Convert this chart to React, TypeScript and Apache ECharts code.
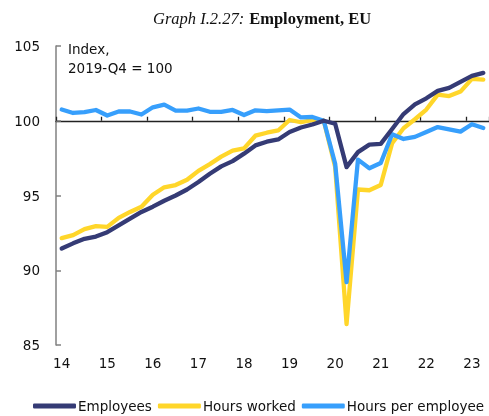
import React, { useEffect, useRef } from "react";
import * as echarts from "echarts";

const years = ["14", "15", "16", "17", "18", "19", "20", "21", "22", "23"];
const quarters = ["Q1", "Q2", "Q3", "Q4"];
const categories = years.flatMap((y) => quarters.map((q) => `${y}-${q}`)).slice(0, 38);

const employees = [
  91.45, 91.8, 92.1, 92.25, 92.55, 93.0, 93.45, 93.9, 94.25, 94.65,
  95.0, 95.4, 95.9, 96.45, 96.95, 97.3, 97.8, 98.35, 98.6, 98.75,
  99.25, 99.55, 99.75, 100.0, 99.8, 96.9, 97.9, 98.4, 98.45, 99.45,
  100.45, 101.1, 101.5, 102.0, 102.2, 102.6, 103.0, 103.2,
];
const hoursWorked = [
  92.15, 92.35, 92.75, 92.95, 92.9, 93.5, 93.9, 94.25, 95.05, 95.55,
  95.7, 96.05, 96.65, 97.1, 97.6, 98.0, 98.15, 99.0, 99.2, 99.35,
  100.05, 99.9, 100.05, 100.0, 96.9, 86.4, 95.4, 95.35, 95.7, 98.5,
  99.5, 100.1, 100.75, 101.75, 101.65, 101.95, 102.8, 102.75,
];
const hoursPerEmployee = [
  100.75, 100.52, 100.57, 100.72, 100.35, 100.62, 100.62, 100.42, 100.9, 101.08,
  100.68, 100.68, 100.82, 100.6, 100.6, 100.72, 100.38, 100.7, 100.65, 100.7,
  100.75, 100.22, 100.25, 100.0, 97.12, 89.2, 97.4, 96.82, 97.17, 99.1,
  98.78, 98.92, 99.25, 99.58, 99.43, 99.27, 99.77, 99.52,
];

const BASE = 100;
const FONT = "DejaVu Sans";

export default function App() {
  const ref = useRef<HTMLDivElement>(null);
  useEffect(() => {
    if (!ref.current) return;
    const chart = echarts.init(ref.current, undefined, { renderer: "svg" });
    const shift = (arr: number[]) => arr.map((v) => +(v - BASE).toFixed(3));
    const mk = (name: string, data: number[], color: string, z: number) => ({
      name,
      type: "line",
      data: shift(data),
      xAxisIndex: 0,
      symbol: "none",
      z,
      lineStyle: { color, width: 4.3, join: "round", cap: "round" },
      itemStyle: { color },
    });
    chart.setOption({
      animation: false,
      title: {
        text: "{i|Graph I.2.27:} {b|Employment, EU}",
        left: 148,
        top: 4,
        textStyle: {
          fontWeight: "normal",
          rich: {
            i: { fontFamily: "Liberation Serif", fontStyle: "italic", fontWeight: "normal", fontSize: 16.5, color: "#111" },
            b: { fontFamily: "Liberation Serif", fontWeight: "bold", fontSize: 16.5, color: "#111" },
          },
        },
      },
      grid: { left: 56, right: 0, top: 46, bottom: 71, containLabel: false },
      legend: {
        left: 33,
        bottom: 3,
        width: 470,
        padding: 0,
        icon: "roundRect",
        itemWidth: 43,
        itemHeight: 5,
        itemGap: 6,
        data: ["Employees", "Hours worked", "Hours per employee"],
        textStyle: { fontFamily: FONT, fontSize: 13.5, color: "#111", padding: [0, 0, 0, -3] },
      },
      xAxis: [
        {
          type: "category",
          data: categories,
          position: "bottom",
          boundaryGap: true,
          axisLine: { onZero: true, lineStyle: { color: "#222", width: 1.3 } },
          axisTick: { show: true, inside: true, length: 4, interval: 3, lineStyle: { color: "#222", width: 1.3 } },
          axisLabel: { show: false },
          splitLine: { show: false },
        },
        {
          type: "category",
          data: categories,
          position: "bottom",
          boundaryGap: true,
          axisLine: { show: false, onZero: false },
          axisTick: { show: false },
          axisLabel: {
            interval: 3,
            margin: 11,
            fontFamily: FONT,
            fontSize: 13.5,
            color: "#111",
            formatter: (v: string) => v.slice(0, 2),
          },
          splitLine: { show: false },
        },
      ],
      yAxis: {
        type: "value",
        min: -15,
        max: 5,
        interval: 5,
        axisLine: { show: true, lineStyle: { color: "#808080", width: 1.5 } },
        axisTick: { show: true, inside: true, length: 5, lineStyle: { color: "#808080", width: 1.5 } },
        axisLabel: {
          margin: 16,
          fontFamily: FONT,
          fontSize: 13.5,
          color: "#111",
          formatter: (v: number) => String(v + BASE),
        },
        splitLine: { show: false },
      },
      graphic: [
        {
          type: "text",
          left: 68,
          top: 42,
          style: { text: "Index,", fontFamily: FONT, fontSize: 13.5, fill: "#111" },
        },
        {
          type: "text",
          left: 68,
          top: 61,
          style: { text: "2019-Q4 = 100", fontFamily: FONT, fontSize: 13.5, fill: "#111" },
        },
      ],
      series: [
        mk("Hours worked", hoursWorked, "#ffd62a", 2),
        mk("Hours per employee", hoursPerEmployee, "#379ffc", 3),
        mk("Employees", employees, "#353b75", 4),
      ],
    });
    return () => chart.dispose();
  }, []);
  return (
    <div
      ref={ref}
      style={{ position: "fixed", left: 0, top: 0, width: 489, height: 416 }}
    />
  );
}
